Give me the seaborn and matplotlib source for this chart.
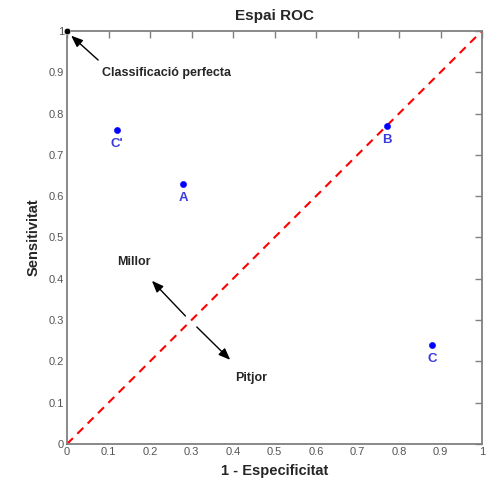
import matplotlib
matplotlib.use("Agg")
import matplotlib.pyplot as plt
import seaborn as sns
import pandas as pd
import numpy as np

labels = ["A", "B", "C", "C'"]
fpr = [0.28, 0.77, 0.88, 0.12]
tpr = [0.63, 0.77, 0.24, 0.76]
ticks = [0, 0.1, 0.2, 0.3, 0.4, 0.5, 0.6, 0.7, 0.8, 0.9, 1]
tick_labels = ["0", "0.1", "0.2", "0.3", "0.4", "0.5", "0.6", "0.7", "0.8", "0.9", "1"]
diag = [0, 1]

sns.set_style("white")
plt.rcParams['font.family'] = ['Liberation Sans', 'DejaVu Sans']

fig = plt.figure(figsize=(5, 4.86), dpi=100)
ax = fig.add_axes([0.134, 0.0864, 0.83, 0.85])

df = pd.DataFrame({"x": fpr, "y": tpr, "label": labels})
sns.lineplot(x=diag, y=diag, ax=ax, color="red", linestyle=(0, (4, 3)), linewidth=1.5)
sns.scatterplot(data=df, x="x", y="y", ax=ax, color="blue", s=20, edgecolor="blue", zorder=3)
sns.scatterplot(x=[0], y=[1], ax=ax, color="black", s=22, zorder=4, clip_on=False)

for x, y, l in zip(fpr, tpr, labels):
    ax.text(x, y - 0.02, l, color="#3a3adf", fontweight="bold", fontsize=9.5,
            ha="center", va="top")

arrow = dict(arrowstyle="-|>,head_length=0.5,head_width=0.2", color="black", lw=1, mutation_scale=14)
ax.annotate("", xy=(0.005, 0.993), xytext=(0.08, 0.925), arrowprops=arrow)
ax.text(0.084, 0.898, "Classificació perfecta", fontweight="bold", fontsize=9,
        ha="left", va="center")
ax.annotate("", xy=(0.2, 0.40), xytext=(0.29, 0.305), arrowprops=arrow)
ax.annotate("", xy=(0.398, 0.199), xytext=(0.308, 0.288), arrowprops=arrow)
ax.text(0.12, 0.44, "Millor", fontweight="bold", fontsize=9, ha="left", va="center")
ax.text(0.405, 0.16, "Pitjor", fontweight="bold", fontsize=9, ha="left", va="center")

ax.set_xlim(0, 1)
ax.set_ylim(0, 1)
ax.set_xticks(ticks)
ax.set_xticklabels(tick_labels)
ax.set_yticks(ticks)
ax.set_yticklabels(tick_labels)
ax.tick_params(direction="in", length=5, width=1, color="#808080", labelcolor="#555555",
               labelsize=8, top=True, right=True, pad=2)
for s in ax.spines.values():
    s.set_color("#808080")
    s.set_linewidth(1.3)
ax.set_xlabel("1 - Especificitat", fontweight="bold", fontsize=10.5, labelpad=5)
ax.set_ylabel("Sensitivitat", fontweight="bold", fontsize=10.5, labelpad=6)
ax.set_title("Espai ROC", fontweight="bold", fontsize=11, pad=8)

fig.savefig("out.png", dpi=100)
